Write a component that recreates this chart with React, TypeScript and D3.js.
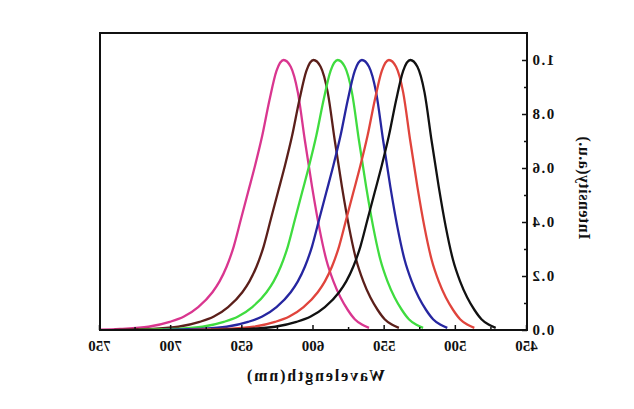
import React, { useRef, useEffect } from 'react';
import * as d3 from 'd3';

const pinkSpectrum: [number, number][] = [
    [561, 0.008], [566, 0.02], [571, 0.04], [576, 0.075], [581, 0.12], [586, 0.18], [591, 0.26], [596, 0.38],
    [601, 0.53], [606, 0.70], [611, 0.88], [616, 0.975], [621, 1.0], [626, 0.96], [631, 0.85], [636, 0.72],
    [641, 0.61], [646, 0.51], [651, 0.41], [656, 0.31], [661, 0.235], [666, 0.18], [671, 0.14], [681, 0.085],
    [691, 0.05], [701, 0.03], [716, 0.012], [736, 0.004], [761, 0.0],
];
const brownSpectrum: [number, number][] = [
    [540, 0.008], [545, 0.02], [550, 0.04], [555, 0.075], [560, 0.12], [565, 0.18], [570, 0.26], [575, 0.38],
    [580, 0.53], [585, 0.70], [590, 0.88], [595, 0.975], [600, 1.0], [605, 0.96], [610, 0.85], [615, 0.72],
    [620, 0.61], [625, 0.51], [630, 0.41], [635, 0.31], [640, 0.235], [645, 0.18], [650, 0.14], [660, 0.085],
    [670, 0.05], [680, 0.03], [695, 0.012], [715, 0.004], [740, 0.0],
];
const greenSpectrum: [number, number][] = [
    [523, 0.008], [528, 0.02], [533, 0.04], [538, 0.075], [543, 0.12], [548, 0.18], [553, 0.26], [558, 0.38],
    [563, 0.53], [568, 0.70], [573, 0.88], [578, 0.975], [583, 1.0], [588, 0.96], [593, 0.85], [598, 0.72],
    [603, 0.61], [608, 0.51], [613, 0.41], [618, 0.31], [623, 0.235], [628, 0.18], [633, 0.14], [643, 0.085],
    [653, 0.05], [663, 0.03], [678, 0.012], [698, 0.004], [723, 0.0],
];
const blueSpectrum: [number, number][] = [
    [506, 0.008], [511, 0.02], [516, 0.04], [521, 0.075], [526, 0.12], [531, 0.18], [536, 0.26], [541, 0.38],
    [546, 0.53], [551, 0.70], [556, 0.88], [561, 0.975], [566, 1.0], [571, 0.96], [576, 0.85], [581, 0.72],
    [586, 0.61], [591, 0.51], [596, 0.41], [601, 0.31], [606, 0.235], [611, 0.18], [616, 0.14], [626, 0.085],
    [636, 0.05], [646, 0.03], [661, 0.012], [681, 0.004], [706, 0.0],
];
const redSpectrum: [number, number][] = [
    [487, 0.008], [492, 0.02], [497, 0.04], [502, 0.075], [507, 0.12], [512, 0.18], [517, 0.26], [522, 0.38],
    [527, 0.53], [532, 0.70], [537, 0.88], [542, 0.975], [547, 1.0], [552, 0.96], [557, 0.85], [562, 0.72],
    [567, 0.61], [572, 0.51], [577, 0.41], [582, 0.31], [587, 0.235], [592, 0.18], [597, 0.14], [607, 0.085],
    [617, 0.05], [627, 0.03], [642, 0.012], [662, 0.004], [687, 0.0],
];
const blackSpectrum: [number, number][] = [
    [472, 0.008], [477, 0.02], [482, 0.04], [487, 0.075], [492, 0.12], [497, 0.18], [502, 0.26], [507, 0.38],
    [512, 0.53], [517, 0.70], [522, 0.88], [527, 0.975], [532, 1.0], [537, 0.96], [542, 0.85], [547, 0.72],
    [552, 0.61], [557, 0.51], [562, 0.41], [567, 0.31], [572, 0.235], [577, 0.18], [582, 0.14], [592, 0.085],
    [602, 0.05], [612, 0.03], [627, 0.012], [647, 0.004], [672, 0.0],
];

const spectra = [pinkSpectrum, brownSpectrum, greenSpectrum, blueSpectrum, redSpectrum, blackSpectrum];
const spectrumColors = ['#d9368f', '#5b1f1a', '#3fdc3f', '#2626a0', '#e0443c', '#111111'];

const xTicks = [450, 500, 550, 600, 650, 700, 750];
const xMinorTicks = [475, 525, 575, 625, 675, 725];
const yTicks = [0, 0.2, 0.4, 0.6, 0.8, 1.0];
const yMinorTicks = [0.1, 0.3, 0.5, 0.7, 0.9];

const FONT = '"Liberation Serif", "Times New Roman", serif';

export default function App() {
    const ref = useRef<SVGSVGElement>(null);

    useEffect(() => {
        if (!ref.current) return;
        const container = d3.select(ref.current);
        container.selectAll("*").remove();

        const width = 634;
        const height = 409;
        const margin = { top: 33, right: 100, bottom: 79, left: 107 };
        const plotRight = width - margin.right;
        const plotBottom = height - margin.bottom;

        // the scanned figure is flipped left-right, so draw normally and mirror everything
        const svg = container.append("g")
            .attr("transform", `translate(${width},0) scale(-1,1)`);

        const xScale = d3.scaleLinear().domain([450, 750]).range([margin.left, plotRight]);
        const yScale = d3.scaleLinear().domain([0, 1.1]).range([plotBottom, margin.top]);

        svg.append("clipPath").attr("id", "plot-clip")
            .append("rect")
            .attr("x", margin.left).attr("y", margin.top)
            .attr("width", plotRight - margin.left).attr("height", plotBottom - margin.top);

        const line = d3.line<[number, number]>()
            .x(d => xScale(d[0]))
            .y(d => yScale(d[1]))
            .curve(d3.curveMonotoneX);

        svg.append("g").attr("clip-path", "url(#plot-clip)")
            .selectAll("path")
            .data(spectra)
            .enter()
            .append("path")
            .attr("d", d => line(d))
            .attr("fill", "none")
            .attr("stroke", (d, i) => spectrumColors[i])
            .attr("stroke-width", 2.3)
            .attr("stroke-linejoin", "round");

        // x axis
        const xAxis = svg.append("g")
            .attr("transform", `translate(0,${plotBottom})`)
            .call(d3.axisBottom(xScale).tickValues(xTicks).tickSizeInner(-5).tickSizeOuter(0).tickPadding(10))
            .call(g => g.select(".domain").remove());
        xAxis.selectAll("text")
            .style("font-family", FONT).style("font-size", "15px").style("font-weight", "bold").attr("fill", "#111");
        xAxis.selectAll("line").attr("stroke", "#111").attr("stroke-width", 1.5);

        svg.append("g")
            .attr("transform", `translate(0,${plotBottom})`)
            .call(d3.axisBottom(xScale).tickValues(xMinorTicks).tickSizeInner(-3).tickSizeOuter(0).tickFormat(() => ""))
            .call(g => g.select(".domain").remove())
            .selectAll("line").attr("stroke", "#111").attr("stroke-width", 1.5);

        // y axis
        const yAxis = svg.append("g")
            .attr("transform", `translate(${margin.left},0)`)
            .call(d3.axisLeft(yScale).tickValues(yTicks).tickSizeInner(-5).tickSizeOuter(0).tickPadding(4)
                .tickFormat(d3.format(".1f") as any))
            .call(g => g.select(".domain").remove());
        yAxis.selectAll("text")
            .style("font-family", FONT).style("font-size", "15px").style("font-weight", "bold")
            .style("letter-spacing", "1.5px").attr("fill", "#111");
        yAxis.selectAll("line").attr("stroke", "#111").attr("stroke-width", 1.5);

        svg.append("g")
            .attr("transform", `translate(${margin.left},0)`)
            .call(d3.axisLeft(yScale).tickValues(yMinorTicks).tickSizeInner(-3).tickSizeOuter(0).tickFormat(() => ""))
            .call(g => g.select(".domain").remove())
            .selectAll("line").attr("stroke", "#111").attr("stroke-width", 1.5);

        // frame
        svg.append("rect")
            .attr("x", margin.left).attr("y", margin.top)
            .attr("width", plotRight - margin.left).attr("height", plotBottom - margin.top)
            .attr("fill", "none").attr("stroke", "#111").attr("stroke-width", 2);

        // axis titles
        svg.append("text")
            .attr("x", 318).attr("y", 381)
            .attr("text-anchor", "middle")
            .attr("textLength", 138).attr("lengthAdjust", "spacing")
            .style("font-family", FONT).style("font-size", "16px").style("font-weight", "bold").attr("fill", "#111")
            .text("Wavelength(nm)");

        svg.append("text")
            .attr("transform", "translate(55,188) rotate(-90)")
            .attr("text-anchor", "middle")
            .attr("textLength", 103).attr("lengthAdjust", "spacing")
            .style("font-family", FONT).style("font-size", "16px").style("font-weight", "bold").attr("fill", "#111")
            .text("Intensity(a.u.)");
    }, []);

    return (
        <svg ref={ref} width={634} height={409}
            style={{ position: 'absolute', left: 0, top: 0, background: '#fff' }} />
    );
}
